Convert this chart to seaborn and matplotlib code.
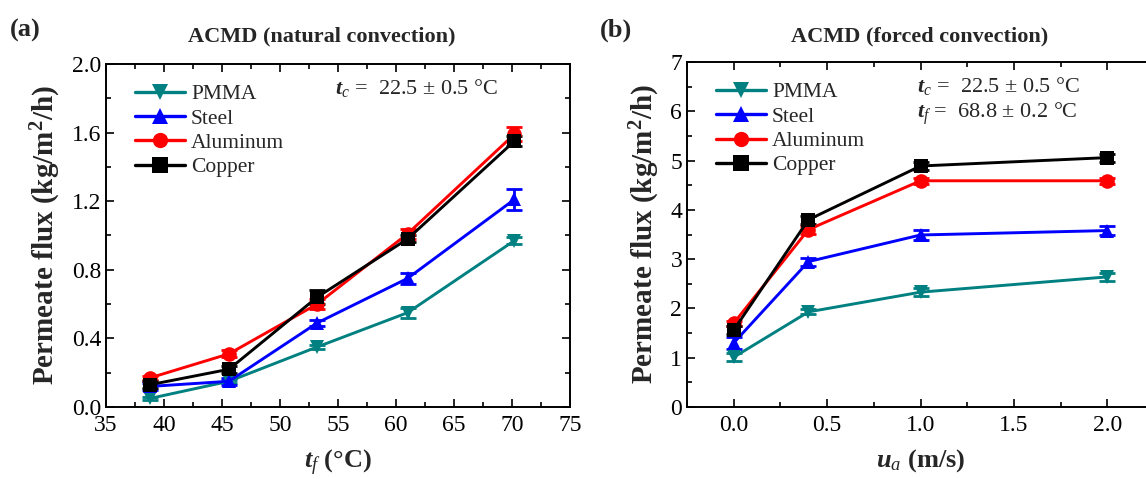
import matplotlib
matplotlib.use("Agg")
import matplotlib.pyplot as plt
import seaborn as sns
import pandas as pd
from matplotlib.ticker import MultipleLocator

materials = ["PMMA", "Steel", "Aluminum", "Copper"]
colors = ["#008080", "#0000FF", "#FF0000", "#000000"]
markers = ["v", "^", "o", "s"]

# Panel (a): natural convection
tf = [38.8, 45.6, 53.2, 61.0, 70.2]
nat_pmma = [0.05, 0.15, 0.35, 0.55, 0.97]
nat_steel = [0.12, 0.15, 0.49, 0.75, 1.21]
nat_al = [0.17, 0.31, 0.60, 1.01, 1.59]
nat_cu = [0.13, 0.22, 0.64, 0.98, 1.55]
nat_pmma_err = [0.01, 0.01, 0.01, 0.03, 0.02]
nat_steel_err = [0.02, 0.02, 0.02, 0.03, 0.06]
nat_al_err = [0.01, 0.02, 0.03, 0.03, 0.04]
nat_cu_err = [0.02, 0.02, 0.04, 0.02, 0.03]

# Panel (b): forced convection
ua = [0.0, 0.4, 1.0, 2.0]
for_pmma = [1.01, 1.93, 2.33, 2.64]
for_steel = [1.30, 2.95, 3.49, 3.58]
for_al = [1.70, 3.60, 4.59, 4.59]
for_cu = [1.56, 3.80, 4.89, 5.06]
for_pmma_err = [0.08, 0.05, 0.08, 0.08]
for_steel_err = [0.12, 0.08, 0.10, 0.10]
for_al_err = [0.05, 0.08, 0.06, 0.06]
for_cu_err = [0.08, 0.08, 0.08, 0.08]

sns.set_theme(style="ticks")
plt.rcParams["font.family"] = ["Liberation Serif", "DejaVu Serif"]
plt.rcParams["mathtext.fontset"] = "custom"
plt.rcParams["mathtext.rm"] = "Liberation Serif"
plt.rcParams["mathtext.it"] = "Liberation Serif:italic"
plt.rcParams["mathtext.bf"] = "Liberation Serif:bold"
plt.rcParams["mathtext.bfit"] = "Liberation Serif:bold:italic"


def long_df(x, ys, errs):
    rows = []
    for m, y, e in zip(materials, ys, errs):
        for xi, yi, ei in zip(x, y, e):
            rows.append({"x": xi, "y": yi, "err": ei, "Material": m})
    return pd.DataFrame(rows)


df_a = long_df(tf, [nat_pmma, nat_steel, nat_al, nat_cu],
               [nat_pmma_err, nat_steel_err, nat_al_err, nat_cu_err])
df_b = long_df(ua, [for_pmma, for_steel, for_al, for_cu],
               [for_pmma_err, for_steel_err, for_al_err, for_cu_err])

W, H = 1146, 479
fig = plt.figure(figsize=(W / 100, H / 100), dpi=100)
fig.patch.set_facecolor("white")


def px_axes(x0, x1, ytop, ybot):
    return fig.add_axes([x0 / W, 1 - ybot / H, (x1 - x0) / W, (ybot - ytop) / H])


axA = px_axes(106, 570, 64, 407)
axB = px_axes(687, 1154, 62, 407)

pal = dict(zip(materials, colors))
mk = dict(zip(materials, markers))


def draw(ax, df):
    for m in materials:
        d = df[df["Material"] == m]
        ax.errorbar(d["x"], d["y"], yerr=d["err"], fmt="none", ecolor=pal[m],
                    elinewidth=2.0, capsize=5.5, capthick=2.0, zorder=2)
    sns.lineplot(data=df, x="x", y="y", hue="Material", style="Material",
                 palette=pal, markers=mk, dashes=False, hue_order=materials,
                 style_order=materials, markersize=10.5, linewidth=2.1,
                 markeredgewidth=0, ax=ax, zorder=3, estimator=None, sort=True)
    ax.set_xlabel("")
    ax.set_ylabel("")
    ax.tick_params(which="both", direction="in", top=True, right=True,
                   labelsize=17, width=1.2, colors="black")
    ax.tick_params(axis="x", which="major", pad=6)
    ax.tick_params(which="major", length=6)
    ax.tick_params(which="minor", length=3.5)
    for s in ax.spines.values():
        s.set_linewidth(1.4)
        s.set_color("black")
    leg = ax.legend(loc="upper left", frameon=False, fontsize=15.5,
                    handlelength=2.3, labelspacing=0.2, handletextpad=0.3,
                    borderaxespad=0.3, bbox_to_anchor=(0.03, 0.985))
    for h in leg.legend_handles:
        h.set_linewidth(2.4)
        h.set_markersize(11)


draw(axA, df_a)
axA.set_xlim(35, 75)
axA.set_ylim(0, 2.0)
axA.xaxis.set_major_locator(MultipleLocator(5))
axA.xaxis.set_minor_locator(MultipleLocator(2.5))
axA.yaxis.set_major_locator(MultipleLocator(0.4))
axA.yaxis.set_minor_locator(MultipleLocator(0.2))
axA.set_yticklabels([f"{v:.1f}" for v in axA.get_yticks()])

draw(axB, df_b)
axB.set_xlim(-0.25, 2.25)
axB.set_ylim(0, 7)
axB.xaxis.set_major_locator(MultipleLocator(0.5))
axB.xaxis.set_minor_locator(MultipleLocator(0.25))
axB.yaxis.set_major_locator(MultipleLocator(1))
axB.yaxis.set_minor_locator(MultipleLocator(0.5))
axB.set_xticks([0.0, 0.5, 1.0, 1.5, 2.0])
axB.set_xticklabels(["0.0", "0.5", "1.0", "1.5", "2.0"])

ylab = r"Permeate flux (kg/m$^{\mathbf{2}}$/h)"
axA.set_ylabel(ylab, fontsize=21, fontweight="bold", labelpad=6)
axB.set_ylabel(ylab, fontsize=21, fontweight="bold", labelpad=6)
axA.set_xlabel(r"$\mathbfit{t}_{\mathit{f}}$ (°C)", fontsize=19, fontweight="bold", labelpad=8)
axB.set_xlabel(r"$\mathbfit{u}_{\mathit{a}}$ (m/s)", fontsize=19, fontweight="bold", labelpad=8)

fig.text(322 / W, 1 - 36 / H, "ACMD (natural convection)", ha="center", va="center",
         fontsize=16, fontweight="bold")
fig.text(920 / W, 1 - 36 / H, "ACMD (forced convection)", ha="center", va="center",
         fontsize=16, fontweight="bold")
fig.text(10 / W, 1 - 30 / H, "(a)", ha="left", va="center", fontsize=19, fontweight="bold")
fig.text(600 / W, 1 - 30 / H, "(b)", ha="left", va="center", fontsize=19, fontweight="bold")

axA.text(335 / W, 1 - 88 / H, r"$\mathbfit{t}_{\mathit{c}}$ =  22.5 ± 0.5 °C",
         transform=fig.transFigure, ha="left", va="center", fontsize=16)
axB.text(917 / W, 1 - 86 / H, r"$\mathbfit{t}_{\mathit{c}}$ =  22.5 ± 0.5 °C",
         transform=fig.transFigure, ha="left", va="center", fontsize=16)
axB.text(917 / W, 1 - 114 / H, r"$\mathbfit{t}_{\mathit{f}}$ =  68.8 ± 0.2 °C",
         transform=fig.transFigure, ha="left", va="center", fontsize=16)

fig.savefig("out.png", dpi=100, facecolor="white")
